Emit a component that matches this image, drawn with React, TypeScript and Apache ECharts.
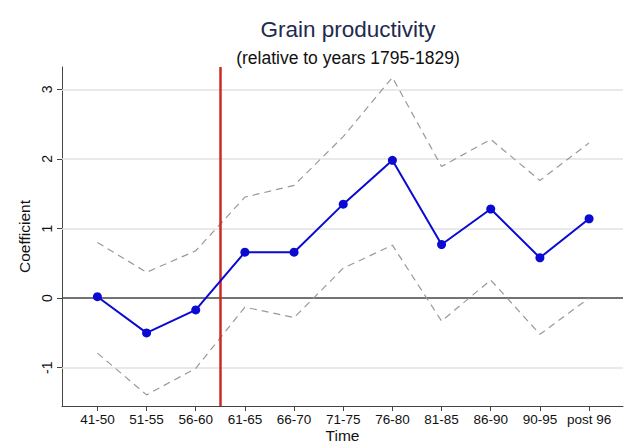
import React, { useEffect, useRef } from "react";
import * as echarts from "echarts";

const categories = ["41-50", "51-55", "56-60", "61-65", "66-70", "71-75", "76-80", "81-85", "86-90", "90-95", "post 96"];
const coefficient = [0.02, -0.5, -0.17, 0.66, 0.66, 1.35, 1.98, 0.77, 1.28, 0.58, 1.14];
const upperCI = [0.8, 0.37, 0.68, 1.45, 1.62, 2.32, 3.17, 1.89, 2.28, 1.69, 2.23];
const lowerCI = [-0.79, -1.39, -1.01, -0.13, -0.28, 0.43, 0.76, -0.33, 0.26, -0.52, 0.0];
const yTicks = [-1, 0, 1, 2, 3];
const gridValues = [-1, 1, 2, 3];
const breakPoint = 2.5;

const FONT = "'Liberation Sans', Arial, Helvetica, sans-serif";

export default function App() {
  const ref = useRef<HTMLDivElement>(null);
  useEffect(() => {
    if (!ref.current) return;
    const chart = echarts.init(ref.current, undefined, { renderer: "svg" });
    const idx = categories.map((_, i) => i);
    const pts = (arr: number[]) => arr.map((v, i) => [i, v]);
    chart.setOption({
      animation: false,
      backgroundColor: "#ffffff",
      textStyle: { fontFamily: FONT },
      title: [
        {
          text: "Grain productivity",
          left: 343,
          top: 13,
          textAlign: "center",
          textStyle: { fontFamily: FONT, fontSize: 22.5, fontWeight: "normal", color: "#1e2a4e" },
        },
        {
          text: "(relative to years 1795-1829)",
          left: 343,
          top: 44,
          textAlign: "center",
          textStyle: { fontFamily: FONT, fontSize: 17.5, fontWeight: "normal", color: "#111111" },
        },
      ],
      grid: { left: 62, right: 17, top: 67, bottom: 39, containLabel: false, outerBoundsMode: "none" },
      xAxis: {
        type: "value",
        min: -0.72,
        max: 10.69,
        name: "Time",
        nameLocation: "middle",
        nameGap: 21,
        nameMoveOverlap: false,
        nameTextStyle: { fontFamily: FONT, fontSize: 15.5, color: "#111", lineHeight: 17 },
        axisLine: { show: true, onZero: false, lineStyle: { color: "#444", width: 1 } },
        axisTick: { show: true, customValues: idx, length: 5, lineStyle: { color: "#444" } },
        axisLabel: {
          customValues: idx,
          formatter: (v: number) => categories[Math.round(v)] ?? "",
          fontFamily: FONT,
          fontSize: 13.5,
          color: "#111",
          margin: 6,
        },
        splitLine: { show: false },
      },
      yAxis: {
        type: "value",
        min: -1.55,
        max: 3.32,
        name: "Coefficient",
        nameLocation: "middle",
        nameGap: 30,
        nameRotate: 90,
        nameMoveOverlap: false,
        nameTextStyle: { fontFamily: FONT, fontSize: 15.5, color: "#111" },
        axisLine: { show: true, onZero: false, lineStyle: { color: "#444", width: 1 } },
        axisTick: { show: true, customValues: yTicks, length: 5, lineStyle: { color: "#444" } },
        axisLabel: {
          customValues: yTicks,
          rotate: 90,
          fontFamily: FONT,
          fontSize: 14,
          color: "#111",
          margin: 8,
        },
        splitLine: { show: false },
      },
      series: [
        {
          type: "line",
          name: "grid",
          data: [],
          symbol: "none",
          z: 1,
          markLine: {
            silent: true,
            z: 1,
            symbol: "none",
            label: { show: false },
            lineStyle: { color: "#e2e2e2", width: 1.5, type: "solid" },
            data: gridValues.map((v) => ({ yAxis: v })),
          },
        },
        {
          type: "line",
          name: "upper",
          data: pts(upperCI),
          symbol: "none",
          lineStyle: { color: "#999999", width: 1.2, type: [7, 5] },
          z: 3,
          markLine: {
            silent: true,
            z: 2,
            symbol: "none",
            label: { show: false },
            lineStyle: { color: "#444444", width: 1.5, type: "solid" },
            data: [{ yAxis: 0 }],
          },
        },
        {
          type: "line",
          name: "lower",
          data: pts(lowerCI),
          symbol: "none",
          lineStyle: { color: "#999999", width: 1.2, type: [7, 5] },
          z: 3,
        },
        {
          type: "line",
          name: "coef",
          data: pts(coefficient),
          symbol: "circle",
          symbolSize: 9,
          itemStyle: { color: "#0a0ad2" },
          lineStyle: { color: "#0a0ad2", width: 2 },
          z: 10,
          markLine: {
            silent: true,
            z: 4,
            symbol: "none",
            label: { show: false },
            lineStyle: { color: "#cc2a22", width: 2.5, type: "solid" },
            data: [{ xAxis: breakPoint }],
          },
        },
      ],
    });
    return () => chart.dispose();
  }, []);
  return <div ref={ref} style={{ width: 640, height: 445, position: "absolute", left: 0, top: 0 }} />;
}
